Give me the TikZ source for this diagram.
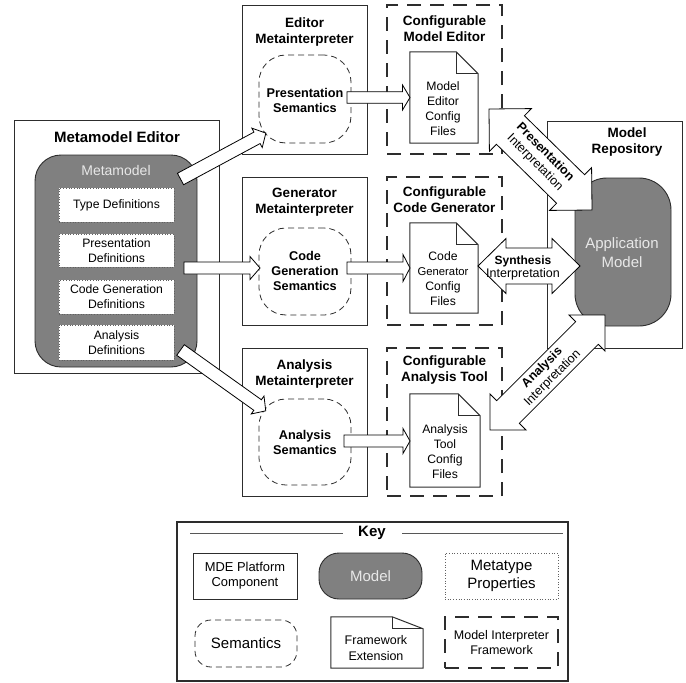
\documentclass[tikz,border=0pt]{standalone}
\usepackage{fontspec}
\setmainfont{Liberation Sans}
\usetikzlibrary{calc}
\definecolor{mgray}{RGB}{128,128,128}
\definecolor{ln}{RGB}{45,45,45}
\definecolor{lighttxt}{RGB}{232,232,232}
\newcommand\fsz[2]{\fontsize{#1pt}{#2pt}\selectfont}
\newcommand\getarr[2]{%
  \path let \p1=($(#2)-(#1)$) in \pgfextra{%
    \pgfmathsetmacro\tmpang{atan2(\y1,\x1)}%
    \pgfmathsetmacro\tmplen{veclen(\x1,\y1)}%
    \global\let\arrang\tmpang
    \global\let\arrlen\tmplen};}
\newcommand\dblarrow[5]{\getarr{#1}{#2}%
  \draw[blockarr,shift={(#1)},rotate=\arrang]
    (0,0) -- (#5,#4) -- (#5,#3) -- (\arrlen-#5,#3) -- (\arrlen-#5,#4) -- (\arrlen,0)
    -- (\arrlen-#5,-#4) -- (\arrlen-#5,-#3) -- (#5,-#3) -- (#5,-#4) -- cycle;}
\newcommand\sglarrow[5]{\getarr{#1}{#2}%
  \draw[blockarr,shift={(#1)},rotate=\arrang]
    (0,#3) -- (\arrlen-#5,#3) -- (\arrlen-#5,#4) -- (\arrlen,0)
    -- (\arrlen-#5,-#4) -- (\arrlen-#5,-#3) -- (0,-#3) -- cycle;}
\newcommand\docoutline[3]{%
  \draw[docst] (#1.north west) -- ([xshift=-#2]#1.north east) -- ([yshift=-#3]#1.north east)
    -- (#1.south east) -- (#1.south west) -- cycle;
  \draw[docst] ([xshift=-#2]#1.north east) |- ([yshift=-#3]#1.north east);}
\begin{document}
\begin{tikzpicture}[x=1pt,y=-1pt,
  comp/.style={draw=ln,line width=1pt,fill=white,inner sep=0pt},
  modelbox/.style={draw=ln,line width=0.9pt,fill=mgray,inner sep=0pt},
  metabox/.style={draw=ln!75,dotted,line width=0.7pt,fill=white,inner sep=0pt},
  sembox/.style={draw=ln,line width=0.8pt,dash pattern=on 6pt off 4pt,fill=white,inner sep=0pt},
  fwbox/.style={draw=ln,line width=1.5pt,dash pattern=on 14pt off 9pt,fill=white,inner sep=0pt},
  docst/.style={draw=ln,line width=1pt,line join=miter},
  docbox/.style={inner sep=0pt},
  blockarr/.style={draw=black,line width=0.8pt,fill=white,line join=miter},
  txt/.style={align=center,inner sep=0pt,font=\fsz{12.2}{15}},
  ttl/.style={align=center,inner sep=0pt,font=\bfseries\fsz{13.5}{16}},
  semtxt/.style={align=center,inner sep=0pt,font=\bfseries\fsz{12.7}{15}},
  arrtxt/.style={align=center,inner sep=0pt,font=\fsz{12.5}{14.5}},
  keyline/.style={draw=ln!80,line width=0.9pt},
]
\fill[white] (0,0) rectangle (686,683);
\useasboundingbox (0,0) rectangle (686,683);

% ---------- Metamodel Editor ----------
\node[comp,minimum width=205pt,minimum height=253pt] (mme) at (116.5,246.5) {};
\node[inner sep=0pt,font=\bfseries\fsz{15}{18}] (mmet) at (117,137) {Metamodel Editor};
\node[modelbox,rounded corners=26pt,minimum width=162pt,minimum height=212pt] (mm) at (116,261) {};
\node[inner sep=0pt,font=\fsz{14}{17},text=lighttxt] (mmt) at (116,170) {Metamodel};
\node[metabox,minimum width=115pt,minimum height=34pt] (td) at (116.5,205) {};
\node[txt] (tdt) at (116.5,205) {Type Definitions};
\node[metabox,minimum width=115pt,minimum height=33pt] (pd) at (116.5,250.5) {};
\node[txt] (pdt) at (116.5,250.5) {Presentation\\Definitions};
\node[metabox,minimum width=115pt,minimum height=34pt] (cd) at (116.5,297) {};
\node[txt] (cdt) at (116.5,297) {Code Generation\\Definitions};
\node[metabox,minimum width=115pt,minimum height=35pt] (ad) at (116.5,342.5) {};
\node[txt] (adt) at (116.5,342.5) {Analysis\\Definitions};

% ---------- Metainterpreters ----------
\node[comp,minimum width=125pt,minimum height=149pt] (emi) at (304.5,79.5) {};
\node[ttl] (emit) at (304.5,32) {Editor\\Metainterpreter};
\node[sembox,rounded corners=27pt,minimum width=92pt,minimum height=88pt] (ps) at (305,99) {};
\node[semtxt] (pst) at (305,100) {Presentation\\Semantics};

\node[comp,minimum width=125pt,minimum height=148pt] (gmi) at (304.5,251) {};
\node[ttl] (gmit) at (304.5,202) {Generator\\Metainterpreter};
\node[sembox,rounded corners=27pt,minimum width=92pt,minimum height=87pt] (cs) at (305,271.5) {};
\node[semtxt] (cst) at (305,271) {Code\\Generation\\Semantics};

\node[comp,minimum width=125pt,minimum height=148pt] (ami) at (304.5,422) {};
\node[ttl] (amit) at (304.5,374.5) {Analysis\\Metainterpreter};
\node[sembox,rounded corners=27pt,minimum width=92pt,minimum height=86pt] (as) at (305,442) {};
\node[semtxt] (ast) at (305,442) {Analysis\\Semantics};

% ---------- Configurable frameworks ----------
\node[fwbox,minimum width=115pt,minimum height=149pt] (cme) at (444.5,79.5) {};
\node[ttl] (cmet) at (444.5,28.5) {Configurable\\Model Editor};
\node[docbox,minimum width=68pt,minimum height=91pt] (d1) at (444,97.5) {};
\docoutline{d1}{22pt}{22pt}
\node[txt] (d1t) at (443,108.5) {Model\\Editor\\Config\\Files};

\node[fwbox,minimum width=115pt,minimum height=148pt] (ccg) at (444.5,251) {};
\node[ttl] (ccgt) at (444.5,199.5) {Configurable\\Code Generator};
\node[docbox,minimum width=68pt,minimum height=90pt] (d2) at (444,268) {};
\docoutline{d2}{22pt}{22pt}
\node[txt] (d2t) at (443,279) {Code\\{\fsz{11.3}{15}Generator}\\Config\\Files};

\node[fwbox,minimum width=115pt,minimum height=148pt] (cat) at (444.5,422) {};
\node[ttl] (catt) at (444.5,370.5) {Configurable\\Analysis Tool};
\node[docbox,minimum width=70pt,minimum height=93pt] (d3) at (445,440.5) {};
\docoutline{d3}{22pt}{22pt}
\node[txt] (d3t) at (445,451.5) {Analysis\\Tool\\Config\\Files};

% ---------- Model Repository ----------
\node[comp,minimum width=135pt,minimum height=227pt] (mr) at (614.5,234.5) {};
\node[ttl] (mrt) at (627,142) {Model\\Repository};
\node[modelbox,rounded corners=32pt,minimum width=96pt,minimum height=148pt] (am) at (623,252) {};
\node[inner sep=0pt,align=center,font=\fsz{15}{19},text=lighttxt] (amt) at (622,252.5) {Application\\Model};

% ---------- single block arrows ----------
\coordinate (s1a) at (180.5,179);  \coordinate (s1b) at (266,133);
\coordinate (s2a) at (184,268);    \coordinate (s2b) at (260,268);
\coordinate (s3a) at (180.5,350);  \coordinate (s3b) at (266,411);
\sglarrow{s1a}{s1b}{6.5}{11}{10}
\sglarrow{s2a}{s2b}{6}{11.5}{10}
\sglarrow{s3a}{s3b}{6.5}{11}{10}

\coordinate (t1a) at (347,97.5);  \coordinate (t1b) at (410,97.5);
\coordinate (t2a) at (347,268);   \coordinate (t2b) at (410,268);
\coordinate (t3a) at (344,441);   \coordinate (t3b) at (410,441);
\sglarrow{t1a}{t1b}{5.8}{12.5}{7.5}
\sglarrow{t2a}{t2b}{6}{13.5}{7}
\sglarrow{t3a}{t3b}{6}{12.5}{7}

% ---------- interpretation double arrows ----------
\coordinate (pia) at (489,109);  \coordinate (pib) at (592,210);
\dblarrow{pia}{pib}{20}{30}{30}
\node[arrtxt,rotate=-45] (pit) at (540,157.5) {\textbf{Presentation}\\Interpretation};

\coordinate (sia) at (478,266);  \coordinate (sib) at (580,266);
\dblarrow{sia}{sib}{18}{27.5}{28}
\node[arrtxt,font=\fsz{12.5}{12.5}] (sit) at (523,268) {\textbf{\fsz{12}{12.5}Synthesis}\\Interpretation};

\coordinate (aia) at (490,430);  \coordinate (aib) at (605,315);
\dblarrow{aia}{aib}{16}{25.5}{25.5}
\node[arrtxt,rotate=45] (ait) at (547.5,373) {\textbf{Analysis}\\Interpretation};

% ---------- Key ----------
\node[draw=ln,line width=1.3pt,fill=white,inner sep=0pt,minimum width=391pt,minimum height=159pt] (key) at (372.5,601.5) {};
\node[inner sep=0pt,font=\bfseries\fsz{15}{18}] (keyt) at (372,533) {Key};
\draw[keyline] (190,533) -- (keyt.west -| 343,533);
\draw[keyline] (402,533) -- (563,533);

\node[comp,minimum width=104pt,minimum height=46pt,font=\fsz{12.9}{15},align=center] (k1) at (245,576) {MDE Platform\\Component};
\node[modelbox,rounded corners=20pt,minimum width=103pt,minimum height=46pt,font=\fsz{15}{18},text=lighttxt] (k2) at (370.5,576) {Model};
\node[metabox,minimum width=113pt,minimum height=46pt,font=\fsz{15}{18},align=center] (k3) at (501.5,576) {Metatype\\Properties};
\node[sembox,rounded corners=16pt,minimum width=102pt,minimum height=47pt,font=\fsz{15}{18}] (k4) at (246,643.5) {Semantics};
\node[docbox,minimum width=92pt,minimum height=51pt] (k5) at (377,642.5) {};
\docoutline{k5}{31pt}{12pt}
\node[txt,font=\fsz{12.5}{16}] (k5t) at (376,648) {Framework\\Extension};
\node[fwbox,minimum width=113pt,minimum height=51pt,font=\fsz{12.5}{15},align=center] (k6) at (501.5,642.5) {Model Interpreter\\Framework};
\end{tikzpicture}
\end{document}
